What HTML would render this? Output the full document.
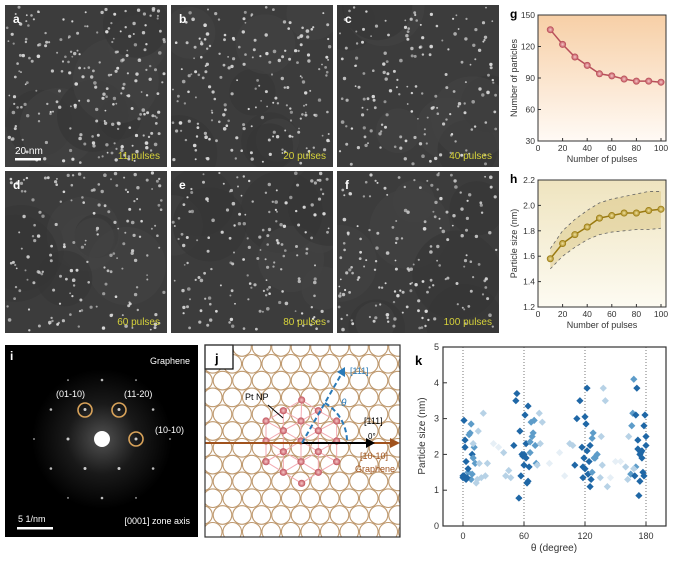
<!DOCTYPE html>
<html><head><meta charset="utf-8">
<style>
body{margin:0;background:#fff;width:679px;height:563px;overflow:hidden;font-family:"Liberation Sans",sans-serif;}
svg{position:absolute;left:0;top:0;}
</style></head>
<body>
<svg id="fig" width="679" height="563" viewBox="0 0 679 563" xmlns="http://www.w3.org/2000/svg">
<defs>
<linearGradient id="gg" x1="0" y1="0" x2="0" y2="1"><stop offset="0" stop-color="#f7cfa6"/><stop offset="1" stop-color="#fffaf5"/></linearGradient>
<linearGradient id="hg" x1="0" y1="0" x2="0" y2="1"><stop offset="0" stop-color="#efe4bf"/><stop offset="1" stop-color="#fdfbf2"/></linearGradient>
<radialGradient id="halo"><stop offset="0" stop-color="#888"/><stop offset="0.5" stop-color="#2a2a2a"/><stop offset="1" stop-color="#000"/></radialGradient>
<radialGradient id="ball"><stop offset="0" stop-color="#f7c9c9"/><stop offset="1" stop-color="#c0505a"/></radialGradient>
<radialGradient id="ballh"><stop offset="0" stop-color="#f2e2a0"/><stop offset="1" stop-color="#a88a20"/></radialGradient>
<clipPath id="jclip"><rect x="205" y="345" width="195" height="192"/></clipPath>
</defs>
<g id="micro"></g>
<g id="panelI"></g>
<g id="panelJ"></g>
<g id="chartG"></g>
<g id="chartH"></g>
<g id="chartK"></g>
</svg>
<script>
// ---- chart data ----
const pulses = [10,20,30,40,50,60,70,80,90,100];
const particleCounts = [136,122,110,102,94,92,89,87,87,86];
const particleSizes = [1.58,1.70,1.77,1.83,1.90,1.92,1.94,1.94,1.96,1.97];
const sizeUpper = [1.66,1.80,1.89,1.96,2.02,2.05,2.07,2.09,2.11,2.11];
const sizeLower = [1.50,1.60,1.67,1.73,1.77,1.79,1.80,1.81,1.81,1.82];
const gTicks = [30,60,90,120,150];
const hTicks = [1.2,1.4,1.6,1.8,2.0,2.2];
const xTicks = [0,20,40,60,80,100];
const kTheta = [0,1,2,1,3,5,6,8,9,10,11,12,7,8,10,13,2,4,9,14,16,20,22,24,15,18,0,3,5,
 50,52,55,56,58,59,60,61,62,63,64,65,66,67,68,70,72,75,53,57,60,62,64,66,69,71,73,76,78,40,42,45,47,
 110,112,115,117,118,119,120,121,122,123,124,125,126,127,128,130,132,118,120,122,125,127,129,135,136,137,138,140,142,105,108,
 160,162,165,166,167,168,169,170,171,172,173,174,175,176,177,178,179,180,170,172,174,176,178,180,163,168,
 30,35,85,95,100,150,155,145];
const kSize = [1.35,2.95,2.4,1.4,1.8,1.5,2.55,2.85,2.0,1.9,2.2,1.75,2.6,1.3,2.3,1.2,2.2,1.35,1.45,1.3,1.75,3.15,1.4,1.75,2.65,1.35,1.4,1.3,1.6,
 2.25,3.5,0.78,2.65,2.0,1.95,1.7,3.1,2.3,1.2,3.35,1.65,2.05,2.9,2.5,2.95,1.75,3.15,3.7,1.4,2.0,1.9,1.25,2.35,2.6,2.25,1.7,2.3,2.9,2.05,1.4,1.55,1.35,
 1.7,3.0,3.5,2.2,1.35,1.9,3.05,2.85,3.85,1.45,1.8,2.25,1.3,2.45,2.6,1.9,2.0,1.65,1.6,2.1,1.1,1.5,1.9,1.35,2.5,1.7,3.85,3.5,1.1,2.3,2.25,1.65,
 1.3,1.45,2.8,3.15,4.1,1.4,3.1,3.85,2.4,0.85,2.0,2.05,1.9,1.5,2.8,3.1,2.5,1.65,2.15,1.25,2.1,1.4,2.25,2.5,1.6,2.3,2.2,1.75,
 2.05,1.4,1.8,1.8,1.35,1.75,1.35,3.25];
const kShade = [3,3,3,3,3,2,2,2,3,2,2,2,2,2,1,1,3,3,2,1,1,1,1,1,1,1,3,3,3,
 3,3,3,3,3,3,3,3,3,3,3,3,2,2,2,2,2,1,3,3,3,3,3,2,2,2,1,1,1,1,1,1,1,
 3,3,3,3,3,3,3,3,3,3,3,3,3,2,2,2,2,3,3,3,3,2,2,1,1,1,1,1,1,1,1,
 1,1,2,2,2,2,3,3,3,3,3,3,3,3,3,3,3,3,2,3,3,3,3,3,1,1,
 0,0,0,0,0,0,0,0];
const kXTicks = [0,60,120,180];
const kYTicks = [0,1,2,3,4,5];

const NS="http://www.w3.org/2000/svg";
function mk(parent,tag,attrs,name,text){const e=document.createElementNS(NS,tag);for(const k in attrs)e.setAttribute(k,attrs[k]);


if(text!==undefined)e.textContent=text;parent.appendChild(e);return e;}

// ---- micrographs ----
let seed=7;function rnd(){seed=(seed*16807)%2147483647;return seed/2147483647;}
const micro=document.getElementById('micro');
const defs=document.querySelector('defs');
const pan=[["a","11 pulses",5,5],["b","20 pulses",171,5],["c","40 pulses",337,5],["d","60 pulses",5,171],["e","80 pulses",171,171],["f","100 pulses",337,171]];
pan.forEach(p=>{
 const cp=mk(defs,'clipPath',{id:'clip'+p[0]},'clip');
 mk(cp,'rect',{x:p[2],y:p[3],width:162,height:162},'clip-rect');
 const g=mk(micro,'g',{'clip-path':'url(#clip'+p[0]+')'},'micrograph-'+p[0]);
 mk(g,'rect',{x:p[2],y:p[3],width:162,height:162,fill:'#3c3c3c'},'micrograph-background');
 for(let i=0;i<8;i++){mk(g,'circle',{cx:p[2]+rnd()*162,cy:p[3]+rnd()*162,r:20+rnd()*25,fill:i%2?'#363636':'#424242',opacity:0.6},'texture-blob');}
 const n=p[0]=='a'?230:p[0]=='b'?200:170;
 for(let i=0;i<n;i++){mk(g,'circle',{cx:(p[2]+2+rnd()*158).toFixed(1),cy:(p[3]+2+rnd()*158).toFixed(1),r:(0.9+rnd()*0.9).toFixed(1),fill:'#d8d8d8',opacity:(0.55+rnd()*0.45).toFixed(2)},'nanoparticle');}
 mk(g,'text',{x:p[2]+8,y:p[3]+18,fill:'#fff','font-size':12,'font-weight':'bold'},'panel-label',p[0]);
 mk(g,'text',{x:p[2]+155,y:p[3]+154,fill:'#d6d23a','font-size':10,'text-anchor':'end'},'pulse-label',p[1]);
});
mk(micro,'rect',{x:15,y:158,width:26,height:2.5,fill:'#fff'},'scale-bar');
mk(micro,'text',{x:15,y:154,fill:'#fff','font-size':10},'scale-bar-label','20 nm');

// ---- panel i ----
const pi=document.getElementById('panelI');
mk(pi,'rect',{x:5,y:345,width:193,height:192,fill:'#000'},'diffraction-background');
mk(pi,'circle',{cx:102,cy:439,r:70,fill:'url(#halo)',opacity:0.6},'diffuse-halo');
for(let k=0;k<6;k++){const a=k*Math.PI/3;mk(pi,'circle',{cx:102+34*Math.cos(a),cy:439-34*Math.sin(a),r:1.5,fill:'#ccc'},'diffraction-spot');
 const b=a+Math.PI/6;mk(pi,'circle',{cx:102+59*Math.cos(b),cy:439-59*Math.sin(b),r:1.3,fill:'#bbb'},'diffraction-spot');
 mk(pi,'circle',{cx:102+68*Math.cos(a),cy:439-68*Math.sin(a),r:1,fill:'#888'},'diffraction-spot');}
mk(pi,'circle',{cx:102,cy:439,r:8,fill:'#fff'},'central-beam');
[[85,410],[119,410],[136,439]].forEach(c=>mk(pi,'circle',{cx:c[0],cy:c[1],r:7,fill:'none',stroke:'#d9a35a','stroke-width':1.6},'highlight-circle'));
mk(pi,'text',{x:10,y:360,fill:'#fff','font-size':12,'font-weight':'bold'},'panel-label','i');
mk(pi,'text',{x:190,y:364,fill:'#fff','font-size':9,'text-anchor':'end'},'graphene-label','Graphene');
mk(pi,'text',{x:56,y:397,fill:'#fff','font-size':9},'index-label','(01-10)');
mk(pi,'text',{x:124,y:397,fill:'#fff','font-size':9},'index-label','(11-20)');
mk(pi,'text',{x:155,y:433,fill:'#fff','font-size':9},'index-label','(10-10)');
mk(pi,'text',{x:190,y:524,fill:'#fff','font-size':9,'text-anchor':'end'},'zone-axis-label','[0001] zone axis');
mk(pi,'text',{x:18,y:522,fill:'#fff','font-size':9},'scale-label','5 1/nm');
mk(pi,'rect',{x:17,y:527,width:36,height:2.5,fill:'#fff'},'scale-bar');

// ---- panel j ----
const pj=document.getElementById('panelJ');
mk(pj,'rect',{x:205,y:345,width:195,height:192,fill:'#fff'},'schematic-background');
const hg=mk(pj,'g',{'clip-path':'url(#jclip)'},'graphene-lattice');
for(let r=0;r<13;r++){for(let c=0;c<12;c++){mk(hg,'circle',{cx:205+c*19.5+(r%2?9.75:0)-2,cy:347+r*16.8,r:9.3,fill:'none',stroke:'#bf9a70','stroke-width':1.1},'carbon-ring');}}
// Pt atoms (zoom coords -> real)
const ptZ=[[305,180],[250,212],[355,212],[198,243],[303,243],[410,243],[250,272],[355,272],[198,303],[303,303],[410,303],[250,335],[355,335],[198,365],[303,365],[410,365],[250,397],[355,397],[305,430]];
const pts=ptZ.map(p=>[200+p[0]/3,340+p[1]/3]);
const ptG=mk(pj,'g',{},'pt-nanoparticle');
pts.forEach((a,i)=>pts.forEach((b,j)=>{if(j<=i)return;const dd=Math.hypot(a[0]-b[0],a[1]-b[1]);if(dd<21.5)mk(ptG,'line',{x1:a[0],y1:a[1],x2:b[0],y2:b[1],stroke:'#f2a9b0','stroke-width':1},'pt-bond');}));
pts.forEach(p=>mk(ptG,'circle',{cx:p[0],cy:p[1],r:3.6,fill:'url(#ball)'},'pt-atom'));
mk(pj,'line',{x1:205,y1:443,x2:390,y2:443,stroke:'#a0521d','stroke-width':2},'graphene-axis');
mk(pj,'path',{d:'M390 438 L400 443 L390 448 Z',fill:'#a0521d'},'graphene-arrowhead');
mk(pj,'line',{x1:302,y1:443,x2:368,y2:443,stroke:'#000','stroke-width':2},'pt-axis');
mk(pj,'path',{d:'M366 438 L375 443 L366 448 Z',fill:'#000'},'pt-arrowhead');
mk(pj,'line',{x1:302,y1:443,x2:342,y2:373,stroke:'#2a7ab8','stroke-width':2,'stroke-dasharray':'5,3'},'rotated-axis');
mk(pj,'path',{d:'M337 372 L345 367 L345 377 Z',fill:'#2a7ab8'},'rotated-arrowhead');
mk(pj,'path',{d:'M325 403 A45 45 0 0 1 347 443',fill:'none',stroke:'#2a7ab8','stroke-width':2,'stroke-dasharray':'5,3'},'angle-arc');
mk(pj,'text',{x:341,y:406,fill:'#2a7ab8','font-size':10,'font-style':'italic'},'theta-label','θ');
mk(pj,'text',{x:350,y:374,fill:'#2a7ab8','font-size':9},'direction-label','[111]');
mk(pj,'text',{x:364,y:424,fill:'#000','font-size':9},'direction-label','[111]');
mk(pj,'text',{x:368,y:439,fill:'#000','font-size':8},'angle-zero-label','0°');
mk(pj,'text',{x:360,y:459,fill:'#a0521d','font-size':9},'direction-label','[10-10]');
mk(pj,'text',{x:355,y:472,fill:'#a0521d','font-size':9},'graphene-label','Graphene');
mk(pj,'text',{x:245,y:400,fill:'#000','font-size':9},'pt-np-label','Pt NP');
mk(pj,'line',{x1:268,y1:405,x2:283,y2:418,stroke:'#000','stroke-width':1},'pt-np-pointer');
mk(pj,'rect',{x:205,y:345,width:28,height:24,fill:'#fff',stroke:'#000','stroke-width':1.2},'label-box');
mk(pj,'text',{x:215,y:363,fill:'#000','font-size':13,'font-weight':'bold'},'panel-label','j');
mk(pj,'rect',{x:205,y:345,width:195,height:192,fill:'none',stroke:'#333','stroke-width':1.2},'panel-border');

// ---- line charts g/h ----
function sx(v){return 538+(v/100)*123;}
function drawLine(gid,L,T,B,ymin,ymax,ticks,grad,vals,col,fillGrad,label,yt,dec){
 const g=document.getElementById(gid);const R=666;
 const sy=v=>B-(v-ymin)/(ymax-ymin)*(B-T);
 mk(g,'rect',{x:L,y:T,width:R-L,height:B-T,fill:fillGrad},'plot-background');
 if(gid=='chartH'){let d='M'+pulses.map((p,i)=>sx(p)+' '+sy(sizeUpper[i])).join(' L')+' L'+pulses.slice().reverse().map((p,i)=>sx(p)+' '+sy(sizeLower[pulses.length-1-i])).join(' L')+' Z';
  mk(g,'path',{d:d,fill:'#d8c27a',opacity:0.45},'error-band');
  mk(g,'path',{d:'M'+pulses.map((p,i)=>sx(p)+' '+sy(sizeUpper[i])).join(' L'),fill:'none',stroke:'#666','stroke-dasharray':'3,3','stroke-width':0.8},'upper-bound');
  mk(g,'path',{d:'M'+pulses.map((p,i)=>sx(p)+' '+sy(sizeLower[i])).join(' L'),fill:'none',stroke:'#666','stroke-dasharray':'3,3','stroke-width':0.8},'lower-bound');}
 mk(g,'rect',{x:L,y:T,width:R-L,height:B-T,fill:'none',stroke:'#333','stroke-width':1},'plot-frame');
 mk(g,'path',{d:'M'+pulses.map((p,i)=>sx(p)+' '+sy(vals[i])).join(' L'),fill:'none',stroke:col,'stroke-width':1.5},'data-line');
 pulses.forEach((p,i)=>mk(g,'circle',{cx:sx(p),cy:sy(vals[i]),r:3.2,fill:grad,stroke:col,'stroke-width':0.6},'data-point'));
 ticks.forEach(t=>{mk(g,'line',{x1:L,x2:L+3,y1:sy(t),y2:sy(t),stroke:'#333'},'y-tick');
  mk(g,'text',{x:L-3,y:sy(t)+3,'font-size':8.5,fill:'#333','text-anchor':'end'},'y-tick-label',t.toFixed(dec));});
 xTicks.forEach(t=>{mk(g,'line',{x1:sx(t),x2:sx(t),y1:B,y2:B-3,stroke:'#333'},'x-tick');
  mk(g,'text',{x:sx(t),y:B+10,'font-size':8.5,fill:'#333','text-anchor':'middle'},'x-tick-label',t);});
 mk(g,'text',{x:602,y:B+21,'font-size':9,fill:'#333','text-anchor':'middle'},'x-axis-title','Number of pulses');
 mk(g,'text',{x:0,y:0,'font-size':9,fill:'#333','text-anchor':'middle',transform:'translate(517 '+((T+B)/2)+') rotate(-90)'},'y-axis-title',yt);
 mk(g,'text',{x:510,y:T+3,'font-size':12,'font-weight':'bold',fill:'#000'},'panel-label',label);
}
drawLine('chartG',538,15,141,30,150,gTicks,'url(#ball)',particleCounts,'#b8505a','url(#gg)','g','Number of particles',0);
drawLine('chartH',538,180,307,1.2,2.2,hTicks,'url(#ballh)',particleSizes,'#9a7a10','url(#hg)','h','Particle size (nm)',1);

// ---- scatter k ----
(function(){const g=document.getElementById('chartK');const L=443,R=666,T=347,B=526;
 const kx=v=>463+(v)*(646-463)/180, ky=v=>B-v/5*(B-T);
 const shades=['#e6eff6','#b7d2e6','#5d9cc9','#1f67a6'];
 kXTicks.forEach(t=>{mk(g,'line',{x1:kx(t),x2:kx(t),y1:T,y2:B,stroke:'#555','stroke-dasharray':'1,2','stroke-width':0.8},'reference-line');
  mk(g,'line',{x1:kx(t),x2:kx(t),y1:B,y2:B-4,stroke:'#333'},'x-tick');
  mk(g,'text',{x:kx(t),y:B+13,'font-size':9,fill:'#333','text-anchor':'middle'},'x-tick-label',t);});
 kYTicks.forEach(t=>{mk(g,'line',{x1:L,x2:L+4,y1:ky(t),y2:ky(t),stroke:'#333'},'y-tick');
  mk(g,'text',{x:L-4,y:ky(t)+3,'font-size':9,fill:'#333','text-anchor':'end'},'y-tick-label',t);});
 kTheta.forEach((th,i)=>{const x=kx(th),y=ky(kSize[i]);
  mk(g,'path',{d:`M${x} ${y-3.6} L${x+3.6} ${y} L${x} ${y+3.6} L${x-3.6} ${y} Z`,fill:shades[kShade[i]]},'data-point');});
 mk(g,'rect',{x:L,y:T,width:R-L,height:B-T,fill:'none',stroke:'#333','stroke-width':1.2},'plot-frame');
 mk(g,'text',{x:554,y:551,'font-size':10,fill:'#333','text-anchor':'middle'},'x-axis-title','θ (degree)');
 mk(g,'text',{x:0,y:0,'font-size':10,fill:'#333','text-anchor':'middle',transform:'translate(425 436) rotate(-90)'},'y-axis-title','Particle size (nm)');
 mk(g,'text',{x:415,y:365,'font-size':13,'font-weight':'bold',fill:'#000'},'panel-label','k');
})();
</script>
</body></html>
